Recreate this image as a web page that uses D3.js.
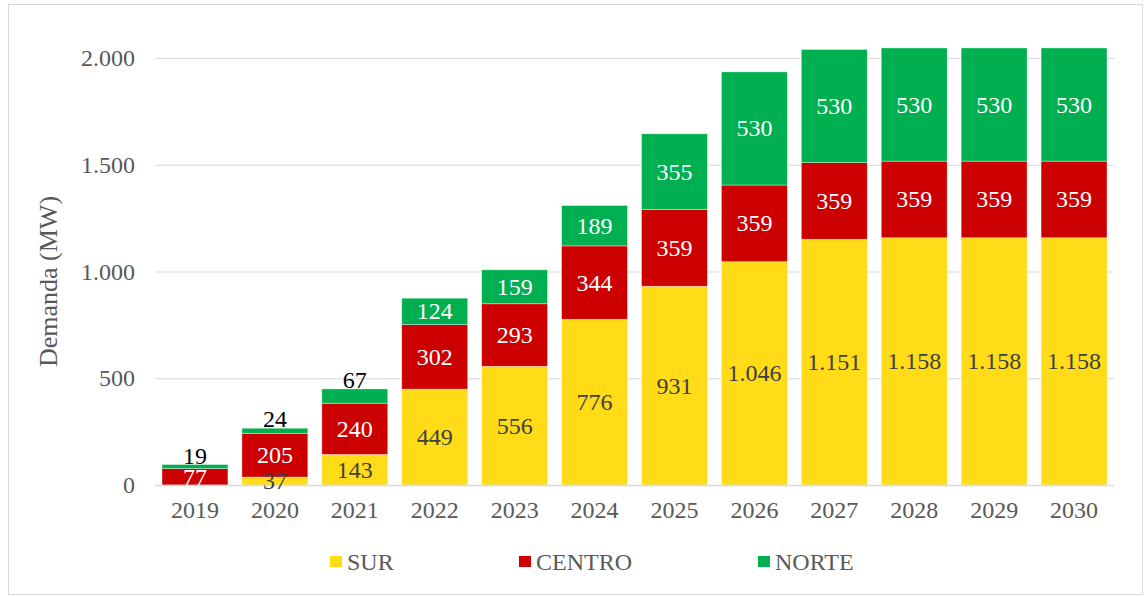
<!DOCTYPE html>
<html>
<head>
<meta charset="utf-8">
<script src="https://cdn.jsdelivr.net/npm/d3@7"></script>
<style>
  body { margin: 0; background: #fff; }
  text { font-family: "Liberation Serif", "Times New Roman", serif; }
</style>
</head>
<body>
<svg id="chart" width="1147" height="597"></svg>
<script>
// données
const years = ["2019","2020","2021","2022","2023","2024","2025","2026","2027","2028","2029","2030"];
const sur    = [0, 37, 143, 449, 556, 776, 931, 1046, 1151, 1158, 1158, 1158];
const centro = [77, 205, 240, 302, 293, 344, 359, 359, 359, 359, 359, 359];
const norte  = [19, 24, 67, 124, 159, 189, 355, 530, 530, 530, 530, 530];
const series = ["SUR", "CENTRO", "NORTE"];
const yTicks = [0, 500, 1000, 1500, 2000];

const colors = {SUR: "#FFDB18", CENTRO: "#CC0000", NORTE: "#00AF50"};
const labelColors = {SUR: "#404040", CENTRO: "#ffffff", NORTE: "#ffffff"};

const svg = d3.select("#chart");

// cadre
svg.append("rect")
  .attr("x", 8.5).attr("y", 4.5)
  .attr("width", 1134).attr("height", 590)
  .attr("fill", "none").attr("stroke", "#d9d9d9").attr("stroke-width", 1);

const plotLeft = 155, plotRight = 1114, plotTop = 58, plotBottom = 485;

const x = d3.scaleBand().domain(years).range([plotLeft, plotRight]).paddingInner(0.175).paddingOuter(0.0875);
const y = d3.scaleLinear().domain([0, 2000]).range([plotBottom, plotTop]);

// tableau pour le stack
const table = years.map((yr, i) => ({year: yr, SUR: sur[i], CENTRO: centro[i], NORTE: norte[i]}));
const stacked = d3.stack().keys(series)(table);

// grille
svg.append("g").selectAll("line")
  .data(yTicks.slice(1))
  .join("line")
  .attr("x1", plotLeft).attr("x2", plotRight)
  .attr("y1", d => y(d) + 0.5).attr("y2", d => y(d) + 0.5)
  .attr("stroke", "#d9d9d9").attr("stroke-width", 1);

// axe Y
const fmt = v => d3.format(",")(v).replace(/,/g, ".");
const axeY = d3.axisLeft(y).tickValues(yTicks).tickSize(0).tickPadding(20).tickFormat(fmt);
const gy = svg.append("g").attr("transform", `translate(${plotLeft},0)`).call(axeY);
gy.select(".domain").remove();
gy.selectAll("text").attr("fill", "#595959").style("font-size", "24px")
  .style("font-family", "Liberation Serif");

// barres
const groups = svg.append("g").selectAll("g")
  .data(stacked)
  .join("g")
  .attr("fill", d => colors[d.key]);

groups.selectAll("rect")
  .data(d => d)
  .join("rect")
  .attr("x", d => x(d.data.year))
  .attr("width", x.bandwidth())
  .attr("y", d => y(d[1]))
  .attr("height", d => y(d[0]) - y(d[1]))
  .attr("stroke", "#ffffff").attr("stroke-opacity", 0.5).attr("stroke-width", 0.75);

// axe X
svg.append("line")
  .attr("x1", plotLeft).attr("x2", plotRight)
  .attr("y1", plotBottom + 0.5).attr("y2", plotBottom + 0.5)
  .attr("stroke", "#d9d9d9").attr("stroke-width", 1.5);

const axeX = d3.axisBottom(x).tickSize(0).tickPadding(16);
const gx = svg.append("g").attr("transform", `translate(0,${plotBottom})`).call(axeX);
gx.select(".domain").remove();
gx.selectAll("text").attr("fill", "#595959").style("font-size", "24px")
  .style("font-family", "Liberation Serif");

// étiquettes
stacked.forEach(s => {
  svg.append("g").selectAll("text")
    .data(s.filter(d => d[1] - d[0] > 0))
    .join("text")
    .attr("x", d => x(d.data.year) + x.bandwidth() / 2)
    .attr("y", d => {
      const h = y(d[0]) - y(d[1]);
      if (s.key === "NORTE" && h < 20) return y(d[1]) - 9;
      return (y(d[0]) + y(d[1])) / 2;
    })
    .attr("text-anchor", "middle")
    .attr("dominant-baseline", "central")
    .attr("fill", d => (s.key === "NORTE" && y(d[0]) - y(d[1]) < 20) ? "#000000" : labelColors[s.key])
    .style("font-size", "24px")
    .text(d => fmt(d[1] - d[0]));
});

// titre axe Y
svg.append("text")
  .attr("transform", `translate(48,${(plotTop + plotBottom) / 2 + 10}) rotate(-90)`)
  .attr("text-anchor", "middle")
  .attr("dominant-baseline", "central")
  .attr("fill", "#595959")
  .style("font-size", "26px")
  .text("Demanda (MW)");

// légende
const legendX = [330, 519, 758];
const legend = svg.append("g").selectAll("g")
  .data(series)
  .join("g")
  .attr("transform", (d, i) => `translate(${legendX[i]},556)`);
legend.append("rect").attr("width", 12).attr("height", 11).attr("fill", d => colors[d]);
legend.append("text")
  .attr("x", 17).attr("y", 6)
  .attr("dominant-baseline", "central")
  .attr("fill", "#595959")
  .style("font-size", "24px")
  .text(d => d);
</script>
</body>
</html>
